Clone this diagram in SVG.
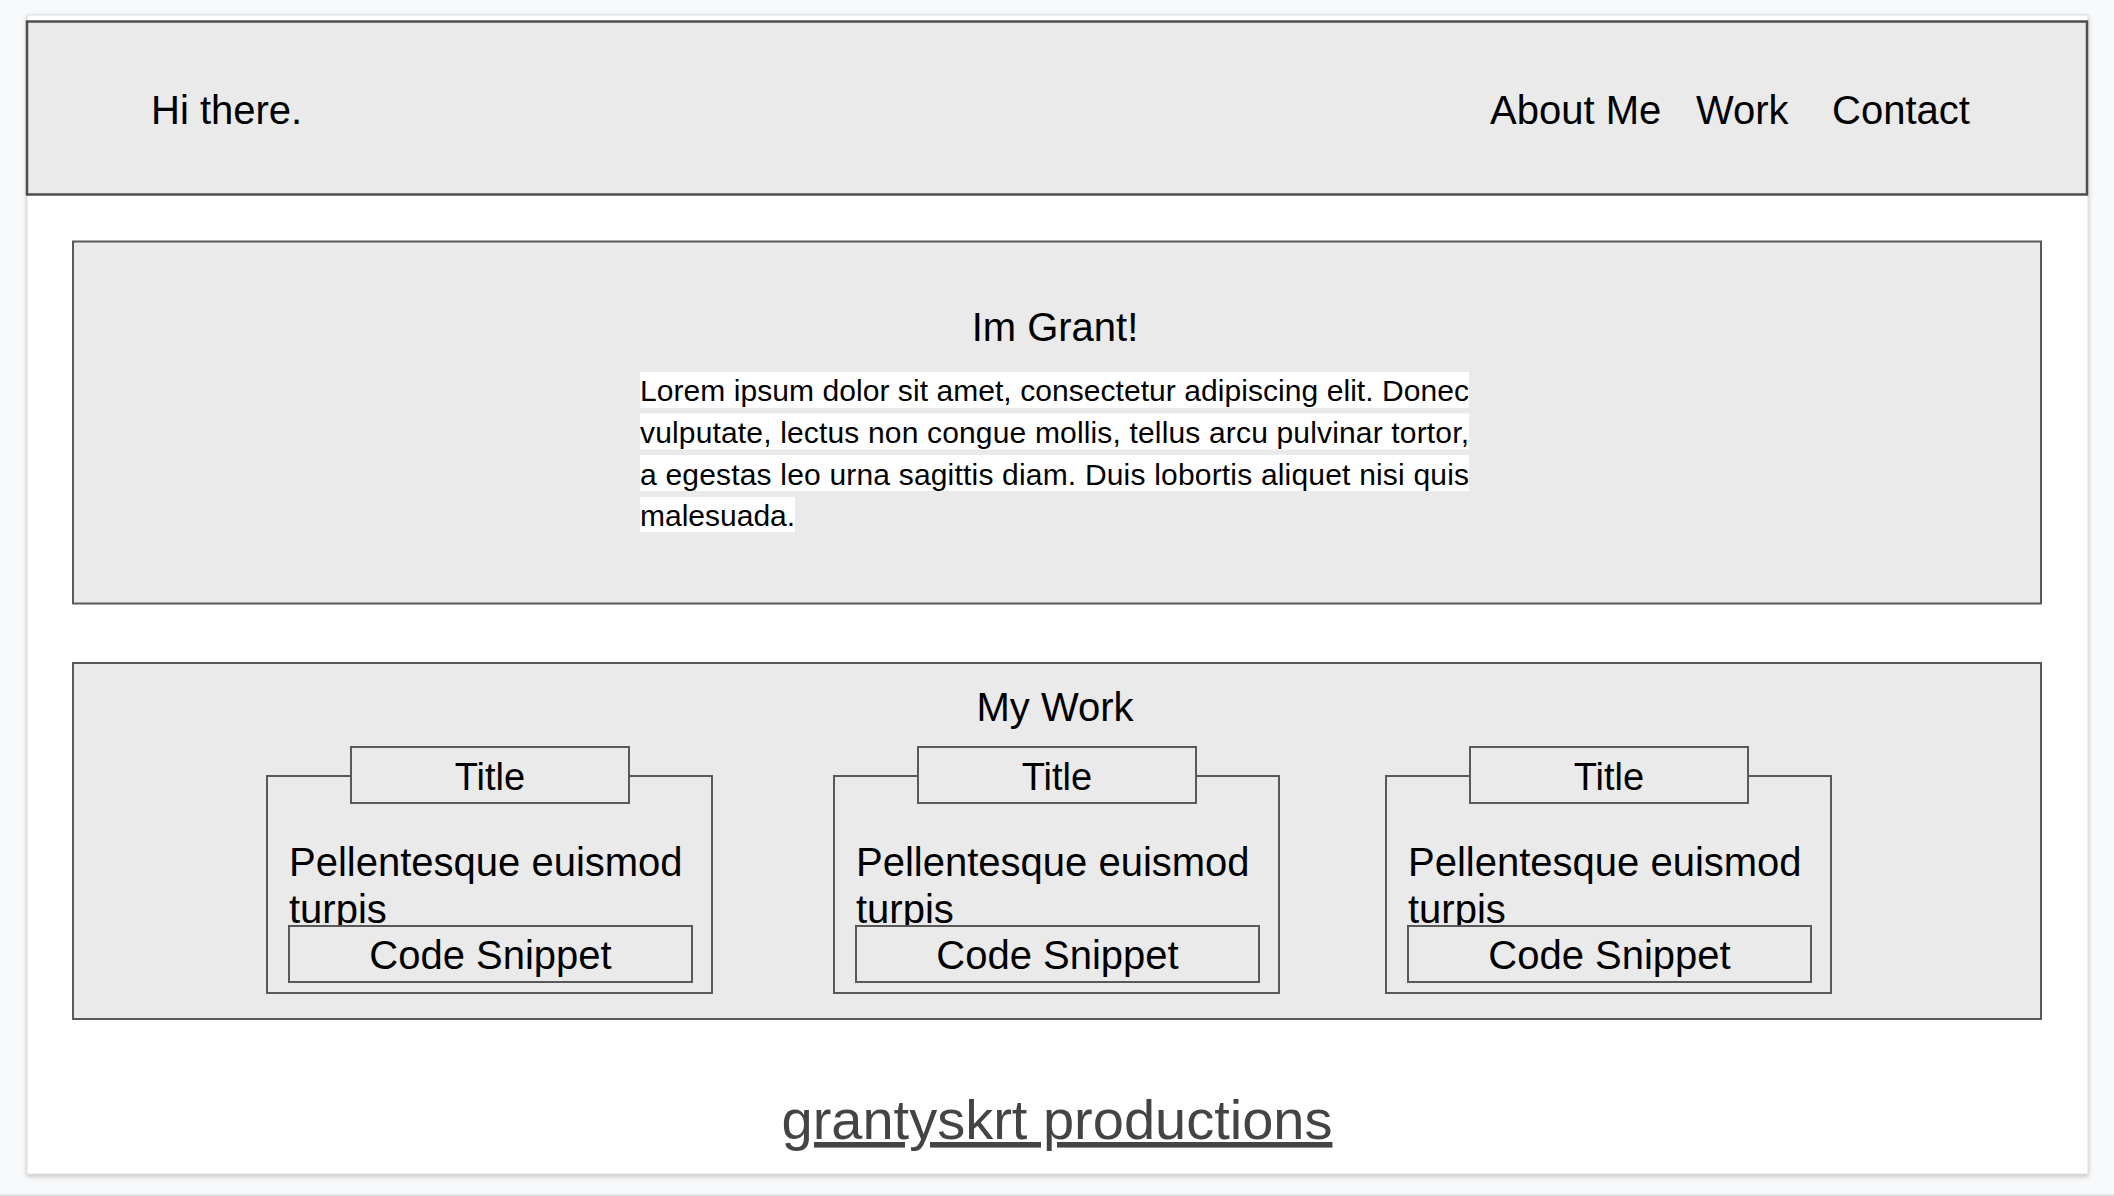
<svg xmlns="http://www.w3.org/2000/svg" width="2114" height="1196" viewBox="0 0 2114 1196">
  <defs>
    <filter id="shadow" x="-2%" y="-2%" width="104%" height="106%">
      <feDropShadow dx="0" dy="2" stdDeviation="2" flood-color="#3c4043" flood-opacity="0.3"/>
    </filter>
    <style>
      .box { fill: #eaeaea; stroke: #595959; stroke-width: 2; }
      .hdr { fill: #eaeaea; stroke: #4d4d4d; stroke-width: 2.5; }
      .t { font-family: "Liberation Sans", Arial, sans-serif; fill: #000; }
      .t40 { font-size: 40px; }
      .t38 { font-size: 38px; }
      .p { font-family: "Liberation Sans", Arial, sans-serif; font-size: 30px; fill: #000; }
      .hl { fill: #ffffff; }
      .mid { text-anchor: middle; }
    </style>
  </defs>

  <rect x="0" y="0" width="2114" height="1196" fill="#f8f9fa"/>
  <line x1="0" y1="1195" x2="2114" y2="1195" stroke="#dadce0" stroke-width="1.5"/>
  <rect id="page" x="27" y="15" width="2061" height="1159" fill="#ffffff" stroke="#dadce0" stroke-width="1" filter="url(#shadow)"/>

  <g id="header">
    <rect class="hdr" x="27" y="21.5" width="2060" height="173"/>
    <text class="t t40" x="151" y="124">Hi there.</text>
    <text class="t t40" x="1490" y="124">About Me</text>
    <text class="t t40" x="1696" y="124">Work</text>
    <text class="t t40" x="1832" y="124">Contact</text>
  </g>

  <g id="about">
    <rect class="box" x="73" y="241.5" width="1968" height="362"/>
    <text class="t t40 mid" x="1055" y="341">Im Grant!</text>
    <rect class="hl" x="640" y="372" width="829" height="36"/>
    <rect class="hl" x="640" y="413.5" width="829" height="36"/>
    <rect class="hl" x="640" y="455" width="829" height="36"/>
    <rect class="hl" x="640" y="497" width="155" height="35"/>
    <text class="p" x="640" y="401" textLength="829" lengthAdjust="spacing">Lorem ipsum dolor sit amet, consectetur adipiscing elit. Donec</text>
    <text class="p" x="640" y="443" textLength="829" lengthAdjust="spacing">vulputate, lectus non congue mollis, tellus arcu pulvinar tortor,</text>
    <text class="p" x="640" y="485" textLength="829" lengthAdjust="spacing">a egestas leo urna sagittis diam. Duis lobortis aliquet nisi quis</text>
    <text class="p" x="640" y="526">malesuada.</text>
  </g>

  <g id="work">
    <rect class="box" x="73" y="663" width="1968" height="356"/>
    <text class="t t40 mid" x="1055" y="721">My Work</text>
  </g>

  <g id="card1">
    <rect class="box" x="267" y="776" width="445" height="217"/>
    <rect class="box" x="351" y="747" width="278" height="56"/>
    <text class="t t38 mid" x="490" y="790">Title</text>
    <text class="t t40" x="289" y="876">Pellentesque euismod</text>
    <text class="t t40" x="289" y="923">turpis</text>
    <rect class="box" x="289" y="926" width="403" height="56"/>
    <text class="t t40 mid" x="490.5" y="969">Code Snippet</text>
  </g>

  <g id="card2" transform="translate(567,0)">
    <rect class="box" x="267" y="776" width="445" height="217"/>
    <rect class="box" x="351" y="747" width="278" height="56"/>
    <text class="t t38 mid" x="490" y="790">Title</text>
    <text class="t t40" x="289" y="876">Pellentesque euismod</text>
    <text class="t t40" x="289" y="923">turpis</text>
    <rect class="box" x="289" y="926" width="403" height="56"/>
    <text class="t t40 mid" x="490.5" y="969">Code Snippet</text>
  </g>

  <g id="card3" transform="translate(1119,0)">
    <rect class="box" x="267" y="776" width="445" height="217"/>
    <rect class="box" x="351" y="747" width="278" height="56"/>
    <text class="t t38 mid" x="490" y="790">Title</text>
    <text class="t t40" x="289" y="876">Pellentesque euismod</text>
    <text class="t t40" x="289" y="923">turpis</text>
    <rect class="box" x="289" y="926" width="403" height="56"/>
    <text class="t t40 mid" x="490.5" y="969">Code Snippet</text>
  </g>

  <g id="footer">
    <text x="1057" y="1139" text-anchor="middle" font-family="'Liberation Sans', Arial, sans-serif" font-size="56" fill="#444444" text-decoration="underline">grantyskrt productions</text>
  </g>

  <g id="connectors"></g>
</svg>
